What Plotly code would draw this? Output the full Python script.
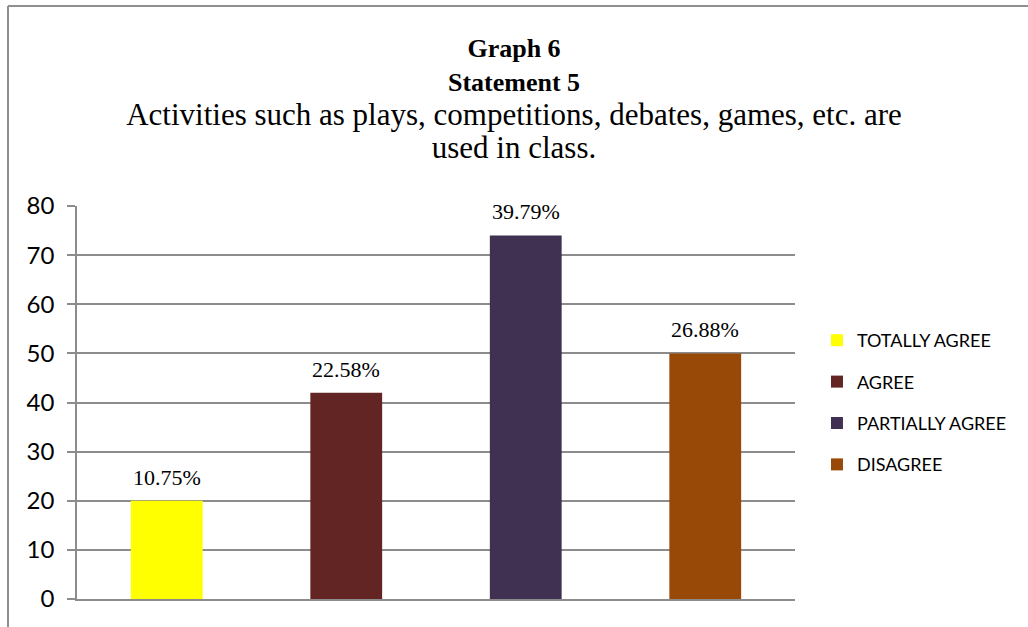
import plotly.graph_objects as go

# Survey responses for statement 5
categories = ["TOTALLY AGREE", "AGREE", "PARTIALLY AGREE", "DISAGREE"]
counts = [20, 42, 74, 50]
percent_labels = ["10.75%", "22.58%", "39.79%", "26.88%"]
bar_colors = ["#FFFF00", "#632523", "#403152", "#984807"]
y_ticks = [0, 10, 20, 30, 40, 50, 60, 70, 80]

W, H = 1028, 627
ML, MR, MT, MB = 77, 233, 206, 28
GRID = "#8c8c8c"
SERIF = "Liberation Serif, Times New Roman, serif"
SANS = "Lato, Carlito, Calibri, sans-serif"

fig = go.Figure()
for i, (cat, val, col) in enumerate(zip(categories, counts, bar_colors)):
    fig.add_trace(go.Bar(
        x=[cat], y=[val], name=cat, width=0.4,
        marker=dict(color=col, line=dict(width=0)),
        legendgroup=f"g{i}", hoverinfo="skip",
    ))

# Percentage labels above each bar
for cat, val, lab in zip(categories, counts, percent_labels):
    fig.add_annotation(
        x=cat, y=val, text=lab, showarrow=False,
        xref="x", yref="y", yanchor="bottom", yshift=9,
        font=dict(family=SERIF, size=22, color="#000000"),
    )

# Frame lines along the top and left edges of the chart area
pw, ph = W - ML - MR, H - MT - MB
def px_x(p):
    return (p - ML) / pw
def px_y(p):
    return (H - MB - p) / ph
fig.add_shape(type="line", xref="paper", yref="paper",
              x0=px_x(8), x1=px_x(W), y0=px_y(6), y1=px_y(6),
              line=dict(color="#8f8f8f", width=2))
fig.add_shape(type="line", xref="paper", yref="paper",
              x0=px_x(8), x1=px_x(8), y0=px_y(6), y1=px_y(H),
              line=dict(color="#8f8f8f", width=2))

title_text = (
    "<b>Graph 6</b><br><b>Statement 5</b><br>"
    "<span style='font-size:31px'>Activities such as plays, competitions, debates, games, etc. are</span><br>"
    "<span style='font-size:31px'>used in class.</span>"
)

fig.update_layout(
    width=W, height=H,
    margin=dict(l=ML, r=MR, t=MT, b=MB, pad=0, autoexpand=False),
    paper_bgcolor="#ffffff", plot_bgcolor="#ffffff",
    barmode="overlay",
    title=dict(text=title_text, x=0.5, xanchor="center", xref="container",
               y=(H - 57) / H, yanchor="middle", yref="container",
               font=dict(family=SERIF, size=26, color="#000000")),
    xaxis=dict(
        categoryorder="array", categoryarray=categories,
        showticklabels=False, ticks="", showgrid=False,
        showline=True, linecolor=GRID, linewidth=1.5,
        range=[-0.5, 3.5], fixedrange=True,
    ),
    yaxis=dict(
        range=[0, 80], tickvals=y_ticks,
        showgrid=True, gridcolor=GRID, gridwidth=1.5,
        showline=True, linecolor=GRID, linewidth=1.5,
        ticks="outside", ticklen=8, tickcolor=GRID, tickwidth=1.5,
        ticklabelstandoff=8,
        tickfont=dict(family=SANS, size=24, color="#000000"),
        zeroline=False,
    ),
    legend=dict(
        x=1.0306, xanchor="left", y=0.5, yanchor="middle",
        font=dict(family=SANS, size=18, color="#000000"),
        tracegroupgap=15, bgcolor="rgba(0,0,0,0)",
    ),
    showlegend=True,
)

fig.write_html("out.html")
